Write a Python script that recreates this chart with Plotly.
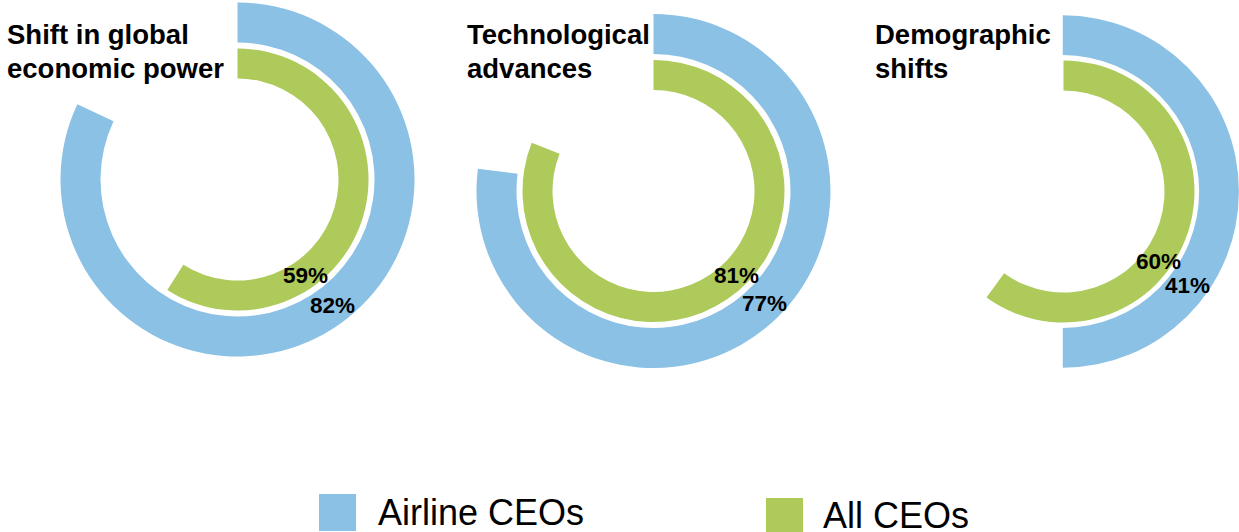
import plotly.graph_objects as go

W, H = 1239, 532

# ---- data ----
topics = [["Shift in global", "economic power"], ["Technological", "advances"], ["Demographic", "shifts"]]
airline_ceos = [82, 77, 41]          # labelled values
airline_arc = [82, 77, 50]           # arc extent as drawn in the reference
all_ceos = [59, 81, 60]
series_names = ["Airline CEOs", "All CEOs"]

BLUE = "#8BC1E5"
GREEN = "#ADCA5A"
FONT = "Liberation Sans, Arial, sans-serif"

# ---- layout geometry (pixels) ----
centers = [(237.5, 179.5), (653.5, 191), (1063.5, 191.5)]
R_OUT, R_OUT_IN = 177, 137
R_IN, R_IN_IN = 131, 101


def domain(cx, cy, r):
    x0 = max(0, (cx - r) / W)
    x1 = min(1, (cx + r) / W)
    yb = H - cy
    return dict(x=[x0, x1], y=[max(0, (yb - r) / H), min(1, (yb + r) / H)])


fig = go.Figure()
for i in range(3):
    cx, cy = centers[i]
    for val, color, r, rin in [(airline_arc[i], BLUE, R_OUT, R_OUT_IN),
                               (all_ceos[i], GREEN, R_IN, R_IN_IN)]:
        fig.add_trace(go.Pie(
            values=[val, 100 - val],
            marker=dict(colors=[color, "rgba(0,0,0,0)"], line=dict(width=0)),
            hole=rin / r,
            sort=False,
            direction="clockwise",
            rotation=0,
            textinfo="none",
            hoverinfo="skip",
            showlegend=False,
            domain=domain(cx, cy, r),
        ))

annotations = []
title_x = [5, 465, 873]
title_mid = [34, 68]
green_lbl = [(305, 275), (736, 275), (1158, 261)]
blue_lbl = [(333, 305), (764, 303), (1187, 285)]
for i in range(3):
    for line, ym in zip(topics[i], title_mid):
        annotations.append(dict(
            x=title_x[i] / W, y=1 - ym / H, xref="paper", yref="paper",
            xanchor="left", yanchor="middle", align="left",
            text=f"<b>{line}</b>", showarrow=False,
            font=dict(family=FONT, size=27.5, color="black")))
    gx, gy = green_lbl[i]
    annotations.append(dict(
        x=gx / W, y=1 - gy / H, xref="paper", yref="paper",
        xanchor="center", yanchor="middle",
        text=f"<b>{all_ceos[i]}%</b>", showarrow=False,
        font=dict(family=FONT, size=22.5, color="black")))
    bx, by = blue_lbl[i]
    annotations.append(dict(
        x=bx / W, y=1 - by / H, xref="paper", yref="paper",
        xanchor="center", yanchor="middle",
        text=f"<b>{airline_ceos[i]}%</b>", showarrow=False,
        font=dict(family=FONT, size=22.5, color="black")))

# manual legend
shapes = []
leg = [(319, 494, BLUE, 376, 512), (766, 498, GREEN, 821, 515)]
for (x0, y0, col, tx, ty), name in zip(leg, series_names):
    shapes.append(dict(type="rect", xref="paper", yref="paper",
                       x0=x0 / W, x1=(x0 + 37) / W,
                       y0=1 - (y0 + 37) / H, y1=1 - y0 / H,
                       fillcolor=col, line=dict(width=0)))
    annotations.append(dict(
        x=tx / W, y=1 - ty / H, xref="paper", yref="paper",
        xanchor="left", yanchor="middle", text=name, showarrow=False,
        font=dict(family=FONT, size=36, color="black")))

fig.update_layout(
    width=W, height=H,
    margin=dict(l=0, r=0, t=0, b=0),
    paper_bgcolor="white", plot_bgcolor="white",
    annotations=annotations, shapes=shapes,
    showlegend=False,
)
fig.write_html(
    "out.html",
    config={"displayModeBar": False},
    post_script="document.body.style.margin='0px';document.body.style.overflow='hidden';",
)
